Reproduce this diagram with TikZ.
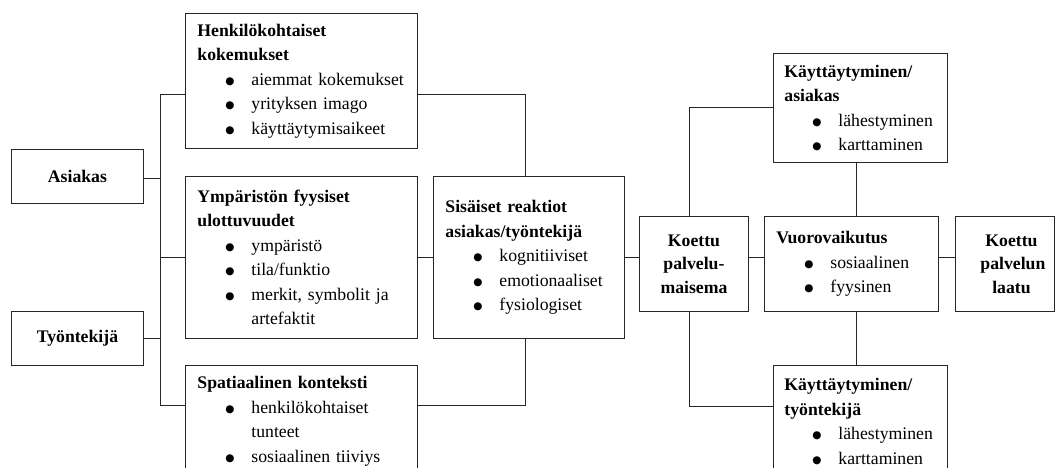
\documentclass[tikz,border=0pt]{standalone}
\usepackage{fontspec}
\setmainfont{Liberation Serif}
\newfontfamily\symfont{DejaVu Sans}

% bullet item and its continuation line inside a box
\newcommand\bigdot{\raisebox{1pt}{\symfont\fontsize{10.5}{0}\selectfont ●}}
\newcommand\bul[1]{\hspace*{28pt}\makebox[26pt][l]{\bigdot}#1}
\newcommand\cont[1]{\hspace*{54pt}#1}

\begin{document}
\begin{tikzpicture}[x=1pt, y=-1pt,
  base/.style={draw=black!85, line width=0.9pt, rectangle, anchor=north west,
    inner xsep=12pt, inner ysep=0pt, font=\fontsize{17.7}{24.5}\selectfont},
  listbox/.style={base, align=left},
  titlebox/.style={base, align=center, font=\fontsize{17.7}{23.5}\selectfont\bfseries},
  link/.style={draw=black!85, line width=0.9pt}]

\fill[white] (0,0) rectangle (1055,468);
\useasboundingbox (0,0) rectangle (1055,468);

% actors
\node[titlebox, minimum width=132pt, minimum height=54pt, text width=108pt]
  (asiakas) at (11,149) {Asiakas};
\node[titlebox, minimum width=132pt, minimum height=54pt, text width=108pt]
  (tyontekija) at (11,311) {Työntekijä};

% environment dimensions
\node[listbox, minimum width=232pt, minimum height=135pt, text width=208pt]
  (henk) at (185,13) {\textbf{Henkilökohtaiset}\\\textbf{kokemukset}\\
  \bul{aiemmat kokemukset}\\\bul{yrityksen imago}\\\bul{käyttäytymisaikeet}};
\node[listbox, minimum width=232pt, minimum height=162pt, text width=208pt]
  (ymp) at (185,176) {\textbf{Ympäristön fyysiset}\\\textbf{ulottuvuudet}\\
  \bul{ympäristö}\\\bul{tila/funktio}\\\bul{merkit, symbolit ja}\\\cont{artefaktit}};
\node[listbox, minimum width=232pt, minimum height=112pt, text width=208pt]
  (spat) at (185,365) {\textbf{Spatiaalinen konteksti}\\
  \bul{henkilökohtaiset}\\\cont{tunteet}\\\bul{sosiaalinen tiiviys}};

% internal reactions
\node[listbox, minimum width=191pt, minimum height=162pt, text width=167pt]
  (sis) at (433,176) {\textbf{Sisäiset reaktiot}\\\textbf{asiakas/työntekijä}\\
  \bul{kognitiiviset}\\\bul{emotionaaliset}\\\bul{fysiologiset}};

% perceived servicescape
\node[titlebox, minimum width=109pt, minimum height=95pt, text width=85pt]
  (kpm) at (639,216) {Koettu\\palvelu-\\maisema};

% behaviour and interaction
\node[listbox, minimum width=174pt, minimum height=109pt, text width=152pt, inner xsep=11pt]
  (kas) at (773,53) {\textbf{Käyttäytyminen/}\\\textbf{asiakas}\\
  \bul{lähestyminen}\\\bul{karttaminen}};
\node[listbox, minimum width=174pt, minimum height=95pt, text width=150pt]
  (vuo) at (764,216) {\textbf{Vuorovaikutus}\\\bul{sosiaalinen}\\\bul{fyysinen}};
\node[listbox, minimum width=174pt, minimum height=112pt, text width=152pt, inner xsep=11pt]
  (kty) at (773,365) {\textbf{Käyttäytyminen/}\\\textbf{työntekijä}\\
  \bul{lähestyminen}\\\bul{karttaminen}};

% perceived service quality
\node[titlebox, minimum width=99pt, minimum height=95pt, text width=75pt]
  (laatu) at (955,216) {\hspace*{13pt}Koettu\\\hspace*{13pt}palvelun\\\hspace*{13pt}laatu};

% junction points
\coordinate (tTop) at (160,94);
\coordinate (tBot) at (160,405);
\coordinate (jTop) at (525,94);
\coordinate (jBot) at (525,405);
\coordinate (kTop) at (689,107);
\coordinate (kBot) at (689,406);
\coordinate (row) at (0,257);
\coordinate (vx) at (856,0);

% left trunk
\draw[link] (tTop -| henk.west) -- (tTop) -- (tBot) -- (tBot -| spat.west);
\draw[link] (row -| ymp.west) -- (row -| tTop);
\draw[link] ([yshift=-2pt]asiakas.east) -- ([yshift=-2pt]asiakas.east -| tTop);
\draw[link] (tyontekija.east) -- (tyontekija.east -| tTop);

% into internal reactions
\draw[link] (tTop -| henk.east) -- (jTop) -- (jTop |- sis.north);
\draw[link] (tBot -| spat.east) -- (jBot) -- (jBot |- sis.south);
\draw[link] (row -| ymp.east) -- (row -| sis.west);

% central row
\draw[link] (row -| sis.east) -- (row -| kpm.west);
\draw[link] (row -| kpm.east) -- (row -| vuo.west);
\draw[link] (row -| vuo.east) -- (row -| laatu.west);

% branches to behaviour
\draw[link] (kTop |- kpm.north) -- (kTop) -- (kTop -| kas.west);
\draw[link] (kBot |- kpm.south) -- (kBot) -- (kBot -| kty.west);
\draw[link] (vx |- kas.south) -- (vx |- vuo.north);
\draw[link] (vx |- vuo.south) -- (vx |- kty.north);

\end{tikzpicture}
\end{document}
